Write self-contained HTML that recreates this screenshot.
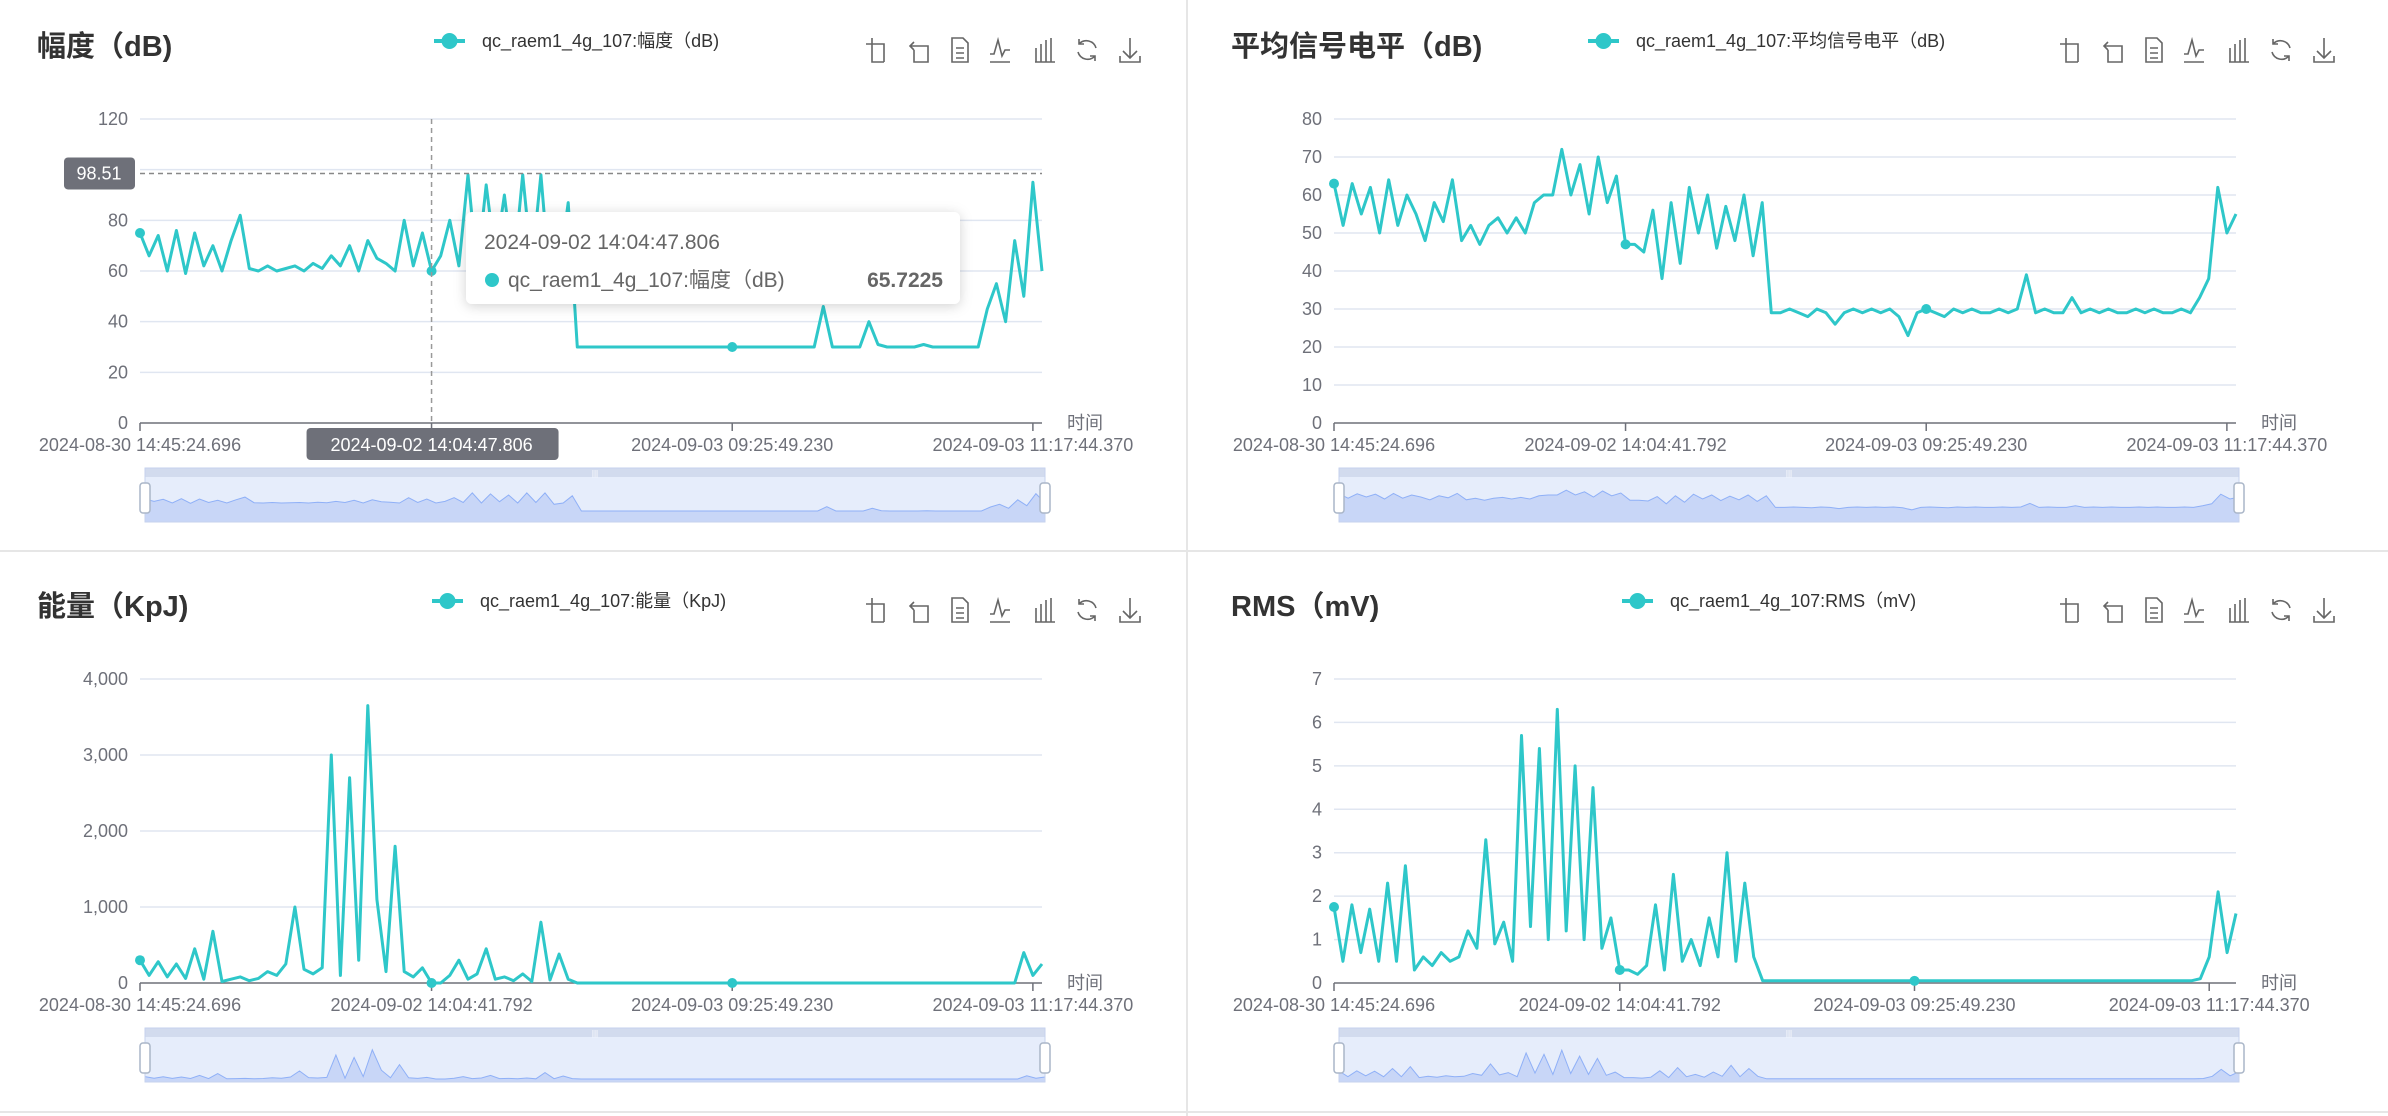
<!DOCTYPE html>
<html><head><meta charset="utf-8"><style>
html,body{margin:0;padding:0;background:#fff;}
svg{display:block;font-family:"Liberation Sans","Noto Sans CJK SC",sans-serif;}
</style></head><body>
<svg id="root" width="2388" height="1116" viewBox="0 0 2388 1116" xmlns="http://www.w3.org/2000/svg">
<defs><filter id="sh" x="-10%" y="-20%" width="120%" height="150%"><feDropShadow dx="0" dy="2" stdDeviation="6" flood-color="#000" flood-opacity="0.18"/></filter></defs>
<rect x="0" y="0" width="2388" height="1116" fill="#fff"/>
<line x1="1187" y1="0" x2="1187" y2="1116" stroke="#e6e6e6" stroke-width="2"/>
<line x1="0" y1="551" x2="2388" y2="551" stroke="#e6e6e6" stroke-width="2"/>
<line x1="0" y1="1112" x2="2388" y2="1112" stroke="#e6e6e6" stroke-width="2"/>
</svg>
<script>
const xLabelsA = ["2024-08-30 14:45:24.696","2024-09-02 14:04:47.806","2024-09-03 09:25:49.230","2024-09-03 11:17:44.370"];
const xLabelsB = ["2024-08-30 14:45:24.696","2024-09-02 14:04:41.792","2024-09-03 09:25:49.230","2024-09-03 11:17:44.370"];
const tickIdx = [0,32,65,98];
const ampValues = [75,66,74,60,76,59,75,62,70,60, 72,82,61,60,62,60,61,62,60,63, 61,66,62,70,60,72,65,63,60,80, 62,75,60,66,80,62,98,60,94,65, 90,60,98,62,98,55,60,87,30,30, 30,30,30,30,30,30,30,30,30,30, 30,30,30,30,30,30,30,30,30,30, 30,30,30,30,30,46,30,30,30,30, 40,31,30,30,30,30,31,30,30,30, 30,30,30,45,55,40,72,50,95,60];
const avgValues = [63,52,63,55,62,50,64,52,60,55, 48,58,53,64,48,52,47,52,54,50, 54,50,58,60,60,72,60,68,55,70, 58,65,47,47,45,56,38,58,42,62, 50,60,46,57,48,60,44,58,29, 29,30,29,28,30,29,26,29,30,29,30, 29,30,28,23,29,30,29,28,30,29, 30,29,29,30,29,30,39,29,30,29, 29,33,29,30,29,30,29,29,30,29, 30,29,29,30,29, 33,38,62,50,55];
const energyValues = [300,100,280,80,250,60,450,50,680,20, 50,80,30,60,150,100,250,1000,180,120, 200,3000,100,2700,300,3650,1100,150,1800,150, 80,200,0,0,100,300,50,120,450,50, 80,30,120,20,800,40,380,50, 0,0,0,0,0,0,0,0,0,0,0,0, 0,0,0,0,0,0,0,0,0,0, 0,0,0,0,0,0,0,0,0,0, 0,0,0,0,0,0,0,0,0,0, 0,0,0,0,0,0,0, 400,100,250];
const rmsValues = [1.75,0.5,1.8,0.7,1.7,0.5,2.3,0.5,2.7,0.3, 0.6,0.4,0.7,0.5,0.6,1.2,0.8,3.3,0.9,1.4, 0.5,5.7,1.3,5.4,1.0,6.3,1.2,5.0,1.0,4.5, 0.8,1.5,0.3,0.3,0.2,0.4,1.8,0.3,2.5,0.5, 1.0,0.4,1.5,0.6,3.0,0.5,2.3,0.6, 0.05,0.05,0.05,0.05,0.05,0.05,0.05,0.05,0.05,0.05,0.05,0.05, 0.05,0.05,0.05,0.05,0.05,0.05,0.05,0.05,0.05,0.05, 0.05,0.05,0.05,0.05,0.05,0.05,0.05,0.05,0.05,0.05, 0.05,0.05,0.05,0.05,0.05,0.05,0.05,0.05,0.05,0.05, 0.05,0.05,0.05,0.05,0.05,0.05,0.05, 0.1,0.6,2.1,0.7,1.6];
const ampTicks = [0,20,40,60,80,100,120];
const avgTicks = [0,10,20,30,40,50,60,70,80];
const energyTicks = [0,1000,2000,3000,4000];
const energyTickLabels = ["0","1,000","2,000","3,000","4,000"];
const rmsTicks = [0,1,2,3,4,5,6,7];

const NS="http://www.w3.org/2000/svg";
const root=document.getElementById('root');
function mk(tag,attrs,parent){const e=document.createElementNS(NS,tag);for(const k in attrs)e.setAttribute(k,attrs[k]);(parent||root).appendChild(e);return e;}
const COLOR="#2ec7c9";

function panel(ox,oy,title,legend,legendX,values,ticks,tickLabels,xLabels,key){
  const g=mk('g',{transform:`translate(${ox},${oy})`});
  
  
  const L=140,R=1042,T=119,B=423;
  const ymax=ticks[ticks.length-1];
  const N=values.length;
  const xs=i=>L+(R-L)*i/(N-1);
  const ys=v=>B-(B-T)*v/ymax;
  const t=mk('text',{x:37,y:56,'font-size':29,'font-weight':'bold',fill:'#333'},g);t.textContent=title;
  
  
  const lg=mk('g',{},g);
  
  
  mk('line',{x1:legendX,y1:41,x2:legendX+31,y2:41,stroke:COLOR,'stroke-width':4},lg);
  mk('circle',{cx:legendX+15.5,cy:41,r:8,fill:COLOR},lg);
  const lt=mk('text',{x:legendX+48,y:47,'font-size':18,fill:'#333'},lg);lt.textContent=legend;
  const icons=[876,920,960,1000,1045,1087,1130];
  const names=['zoom-icon','zoom-reset-icon','data-view-icon','line-type-icon','bar-type-icon','restore-icon','download-icon'];
  icons.forEach((ix,k)=>{
    const ig=mk('g',{stroke:'#666','stroke-width':1.6,fill:'none'},g);
    
    
    const y0=38,y1=62;
    if(k===0){mk('path',{d:`M${ix-10} ${y0+6}H${ix+8}V${y1}M${ix-4} ${y0}V${y1}H${ix+8}`},ig);}
    else if(k===1){mk('path',{d:`M${ix-6} ${y0+4}L${ix-10} ${y0+8}L${ix-6} ${y0+12}M${ix-10} ${y0+8}H${ix+8}V${y1}H${ix-6}V${y0+12}`},ig);}
    else if(k===2){mk('path',{d:`M${ix-8} ${y0}H${ix+3}L${ix+8} ${y0+5}V${y1}H${ix-8}Z M${ix-4} ${y0+10}H${ix+4}M${ix-4} ${y0+15}H${ix+4}M${ix-4} ${y0+20}H${ix+4}`},ig);}
    else if(k===3){mk('path',{d:`M${ix-10} ${y0+16}H${ix-6}L${ix-2} ${y0+2}L${ix+2} ${y0+18}L${ix+5} ${y0+12}H${ix+10}M${ix-10} ${y1}H${ix+10}`},ig);}
    else if(k===4){mk('path',{d:`M${ix-9} ${y0+10}V${y1}M${ix-4} ${y0+6}V${y1}M${ix+1} ${y0+2}V${y1}M${ix+6} ${y0}V${y1}M${ix-10} ${y1}H${ix+10}`},ig);}
    else if(k===5){mk('path',{d:`M${ix+9} ${y0+10}A10 10 0 0 0 ${ix-8} ${y0+6}M${ix-9} ${y0+14}A10 10 0 0 0 ${ix+8} ${y0+18}M${ix-8} ${y0+1}V${y0+6}H${ix-3}M${ix+8} ${y0+23}V${y0+18}H${ix+3}`},ig);}
    else {mk('path',{d:`M${ix} ${y0}V${y1-4}M${ix-7} ${y1-11}L${ix} ${y1-4}L${ix+7} ${y1-11}M${ix-10} ${y1-6}V${y1}H${ix+10}V${y1-6}`},ig);}
  });
  ticks.forEach((tv,k)=>{
    const y=ys(tv);
    if(tv!==0){const gl=mk('line',{x1:L,y1:y,x2:R,y2:y,stroke:'#e0e6f1','stroke-width':1.5},g);
      
      }
    const tl=mk('text',{x:L-12,y:y+6,'font-size':18,fill:'#6e7079','text-anchor':'end'},g);tl.textContent=tickLabels[k];
    
    
  });
  const ax=mk('line',{x1:L,y1:B,x2:R,y2:B,stroke:'#6e7079','stroke-width':1.5},g);
  
  
  tickIdx.forEach((ti,k)=>{
    const x=xs(ti);
    mk('line',{x1:x,y1:B,x2:x,y2:B+8,stroke:'#6e7079','stroke-width':1.5},g);
    const xl=mk('text',{x:x,y:451,'font-size':18,fill:'#6e7079','text-anchor':'middle'},g);xl.textContent=xLabels[k];
    
    
  });
  const an=mk('text',{x:1067,y:429,'font-size':18,fill:'#6e7079'},g);an.textContent='时间';
  
  
  const pts=values.map((v,i)=>`${xs(i).toFixed(1)},${ys(v).toFixed(1)}`).join(' ');
  const pl=mk('polyline',{points:pts,fill:'none',stroke:COLOR,'stroke-width':3,'stroke-linejoin':'round'},g);
  
  
  tickIdx.slice(0,3).forEach(ti=>{
    const c=mk('circle',{cx:xs(ti),cy:ys(values[ti]),r:5,fill:COLOR},g);
    
    
  });
  const SL=145,SR=1045,ST=468,SB=522;
  const sg=mk('g',{},g);
  
  
  mk('rect',{x:SL,y:ST,width:SR-SL,height:9,fill:'#d2dbee'},sg);
  mk('rect',{x:SL,y:ST+9,width:SR-SL,height:SB-ST-9,fill:'#e6edfb'},sg);
  const sx=i=>SL+(SR-SL)*i/(N-1);
  const sy=v=>SB-3-(SB-ST-22)*v/ymax;
  let d=`M${SL} ${SB} `+values.map((v,i)=>`L${sx(i).toFixed(1)} ${sy(v).toFixed(1)}`).join(' ')+` L${SR} ${SB} Z`;
  mk('path',{d:d,fill:'#c8d6f7',stroke:'none'},sg);
  mk('polyline',{points:values.map((v,i)=>`${sx(i).toFixed(1)},${sy(v).toFixed(1)}`).join(' '),fill:'none',stroke:'#8fb0f7','stroke-width':1},sg);
  mk('rect',{x:SL,y:ST,width:SR-SL,height:SB-ST,fill:'none',stroke:'#c6d2ee','stroke-width':1},sg);
  mk('text',{x:(SL+SR)/2,y:ST+8,'font-size':8,fill:'#fff','text-anchor':'middle'},sg).textContent='|||';
  [SL,SR].forEach(hx=>{
    const h=mk('rect',{x:hx-5,y:ST+15,width:10,height:30,rx:3,fill:'#fff',stroke:'#aab6c8','stroke-width':1.5},sg);
    
    
  });
  return {g,xs,ys,L,R,T,B};
}

const p1=panel(0,0,'幅度（dB)','qc_raem1_4g_107:幅度（dB)',434,ampValues,ampTicks,ampTicks.map(String),xLabelsA,'amplitude');
panel(1194,0,'平均信号电平（dB)','qc_raem1_4g_107:平均信号电平（dB)',1588-1194,avgValues,avgTicks,avgTicks.map(String),xLabelsB,'avg-level');
panel(0,560,'能量（KpJ)','qc_raem1_4g_107:能量（KpJ)',432,energyValues,energyTicks,energyTickLabels,xLabelsB,'energy');
panel(1194,560,'RMS（mV)','qc_raem1_4g_107:RMS（mV)',428,rmsValues,rmsTicks,rmsTicks.map(String),xLabelsB,'rms');

const g=p1.g;
const cx=p1.xs(tickIdx[1]);
const cl=mk('line',{x1:cx,y1:p1.T,x2:cx,y2:p1.B,stroke:'#999','stroke-width':1.5,'stroke-dasharray':'5,4'},g);


const hy=p1.ys(98.51);
const hl=mk('line',{x1:p1.L,y1:hy,x2:p1.R,y2:hy,stroke:'#888','stroke-width':1.5,'stroke-dasharray':'5,4'},g);


const yl=mk('g',{},g);


mk('rect',{x:64,y:hy-16,width:71,height:32,rx:4,fill:'#6e7079'},yl);
mk('text',{x:99,y:hy+6,'font-size':18,fill:'#fff','text-anchor':'middle'},yl).textContent='98.51';
const xp=mk('g',{},g);


mk('rect',{x:cx-125,y:428,width:252,height:32,rx:4,fill:'#6e7079'},xp);
mk('text',{x:cx,y:451,'font-size':18,fill:'#fff','text-anchor':'middle'},xp).textContent=xLabelsA[1];
const tt=mk('g',{},g);


mk('rect',{x:466,y:212,width:494,height:92,rx:6,fill:'#fff',filter:'url(#sh)'},tt);
mk('text',{x:484,y:249,'font-size':21,fill:'#666'},tt).textContent='2024-09-02 14:04:47.806';
mk('circle',{cx:492,cy:280,r:7,fill:COLOR},tt);
mk('text',{x:508,y:287,'font-size':21,fill:'#666'},tt).textContent='qc_raem1_4g_107:幅度（dB)';
mk('text',{x:943,y:287,'font-size':21,'font-weight':'bold',fill:'#666','text-anchor':'end'},tt).textContent='65.7225';
</script>
</body></html>
